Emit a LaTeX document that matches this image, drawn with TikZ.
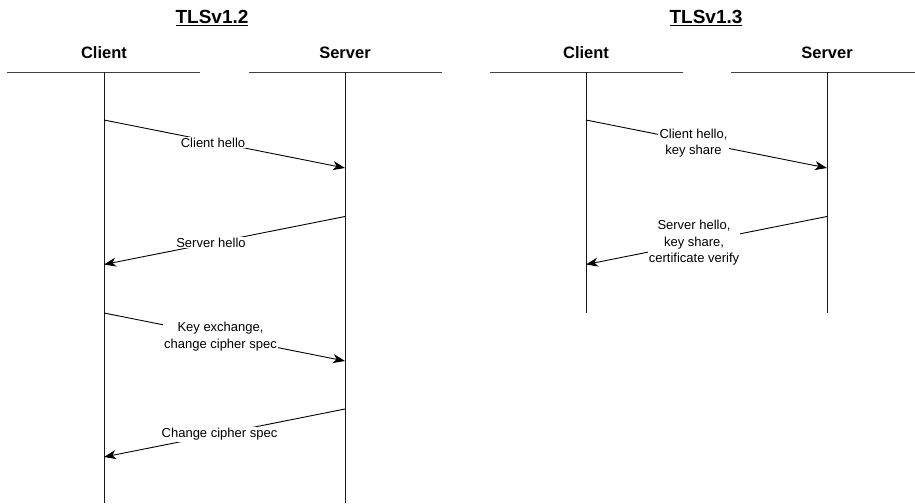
\documentclass[tikz,border=0pt]{standalone}
\usepackage{fontspec}
\setmainfont{Liberation Sans}
\usetikzlibrary{arrows.meta}
\begin{document}
\begin{tikzpicture}[x=1pt,y=-1pt,
  title/.style={font=\fontsize{19}{22}\selectfont\bfseries},
  actor/.style={font=\fontsize{16.5}{20}\selectfont\bfseries},
  headline/.style={line width=0.9pt, draw=black!75},
  life/.style={line width=0.9pt, draw=black!90},
  msg/.style={line width=0.9pt, -{Stealth[length=12pt,width=9pt,inset=3.5pt]}},
  lbl/.style={font=\fontsize{13}{16.5}\selectfont, fill=white, inner sep=1.2pt, align=center}]
\useasboundingbox (0,0) rectangle (915,503);
% titles
\node[title] (t12) at (212,18) {\underline{TLSv1.2}};
\node[title] (t13) at (706,18) {\underline{TLSv1.3}};
% actors
\node[actor] (c1) at (104,53) {Client};
\node[actor] (s1) at (345,53) {Server};
\node[actor] (c2) at (586,53) {Client};
\node[actor] (s2) at (827,53) {Server};
% header lines
\coordinate (c1hl) at (7,72); \coordinate (c1hr) at (200,72);
\coordinate (s1hl) at (249,72); \coordinate (s1hr) at (442,72);
\coordinate (c2hl) at (490,72); \coordinate (c2hr) at (683,72);
\coordinate (s2hl) at (731,72); \coordinate (s2hr) at (920,72);
\draw[headline] (c1hl) -- (c1hr);
\draw[headline] (s1hl) -- (s1hr);
\draw[headline] (c2hl) -- (c2hr);
\draw[headline] (s2hl) -- (s2hr);
% lifelines
\coordinate (c1top) at (104,72); \coordinate (c1bot) at (104,503);
\coordinate (s1top) at (345,72); \coordinate (s1bot) at (345,503);
\coordinate (c2top) at (586,72); \coordinate (c2bot) at (586,313);
\coordinate (s2top) at (827,72); \coordinate (s2bot) at (827,313);
\draw[life] (c1top) -- (c1bot);
\draw[life] (s1top) -- (s1bot);
\draw[life] (c2top) -- (c2bot);
\draw[life] (s2top) -- (s2bot);
% TLS 1.2 messages
\coordinate (m1a) at (104,120); \coordinate (m1b) at (345,168);
\coordinate (m2a) at (345,216.5); \coordinate (m2b) at (104,264.5);
\coordinate (m3a) at (104,313); \coordinate (m3b) at (345,361);
\coordinate (m4a) at (345,409); \coordinate (m4b) at (104,457);
\draw[msg] (m1a) -- (m1b);
\draw[msg] (m2a) -- (m2b);
\draw[msg] (m3a) -- (m3b);
\draw[msg] (m4a) -- (m4b);
\node[lbl] (l1) at (213,142.5) {Client hello};
\node[lbl] (l2) at (211,242.5) {Server hello};
\node[lbl] (l3) at (220.5,336.5) {Key exchange,\\change cipher spec};
\node[lbl] (l4) at (219.5,434.5) {Change cipher spec};
% TLS 1.3 messages
\coordinate (n1a) at (586,120); \coordinate (n1b) at (827,168);
\coordinate (n2a) at (827,216.5); \coordinate (n2b) at (586,264.5);
\draw[msg] (n1a) -- (n1b);
\draw[msg] (n2a) -- (n2b);
\node[lbl] (k1) at (693.5,143) {Client hello,\\key share};
\node[lbl] (k2) at (694,243) {Server hello,\\key share,\\certificate verify};
\end{tikzpicture}
\end{document}
